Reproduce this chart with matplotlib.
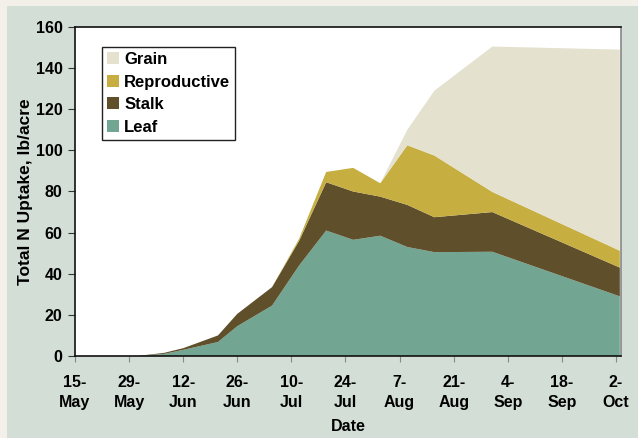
import pandas as pd
import numpy as np
import matplotlib.pyplot as plt
import matplotlib.dates as mdates
from matplotlib.patches import Rectangle

plt.rcParams['font.family'] = ['Liberation Sans', 'DejaVu Sans']
plt.rcParams['font.weight'] = 'bold'
plt.rcParams['axes.labelweight'] = 'bold'

# sampling dates and N uptake per plant part (lb/acre)
dates = ['2021-05-31', '2021-06-07', '2021-06-12', '2021-06-21', '2021-06-26',
         '2021-07-05', '2021-07-12', '2021-07-19', '2021-07-26', '2021-08-02',
         '2021-08-09', '2021-08-16', '2021-08-31', '2021-10-03']
leaf = [0, 1.0, 3.0, 6.8, 14.5, 24.5, 44, 61, 56.5, 58.5, 53, 50.5, 50.7, 29]
stalk = [0, 0.5, 0.8, 3.2, 6, 9, 12, 23.5, 23.5, 19, 20.5, 17, 19.3, 14]
reproductive = [0, 0, 0, 0, 0, 0, 1, 5, 11.5, 6.5, 29, 30, 9.8, 8.2]
grain = [0, 0, 0, 0, 0, 0, 0, 0, 0, 0, 7.5, 31.5, 70.7, 97.8]

tick_dates = ['2021-05-15', '2021-05-29', '2021-06-12', '2021-06-26', '2021-07-10',
              '2021-07-24', '2021-08-07', '2021-08-21', '2021-09-04', '2021-09-18',
              '2021-10-02']
tick_labels = ['15-\nMay', '29-\nMay', '12-\nJun', '26-\nJun', '10-\nJul', '24-\nJul',
               '7-\nAug', '21-\nAug', '4-\nSep', '18-\nSep', '2-\nOct']

colors = ['#72a592', '#5f4f2a', '#c6ae40', '#e4e1cf']
names = ['Leaf', 'Stalk', 'Reproductive', 'Grain']


def main():
    x = pd.to_datetime(dates)
    fig = plt.figure(figsize=(6.38, 4.38), dpi=100)
    fig.patch.set_facecolor('#f3f0e9')
    bg = fig.add_axes([0, 0, 1, 1], zorder=-5)
    bg.axis('off')
    bg.add_patch(Rectangle((7 / 638, 0), 1, 1 - 6 / 438, transform=bg.transAxes,
                           facecolor='#d3dfd6', edgecolor='none'))

    ax = fig.add_axes([75 / 638, 1 - 356 / 438, 546 / 638, 329 / 438])
    ax.set_facecolor('white')
    polys = ax.stackplot(x, leaf, stalk, reproductive, grain, colors=colors,
                         labels=names, linewidth=0)

    xt = pd.to_datetime(tick_dates)
    ax.set_xticks(mdates.date2num(xt))
    ax.set_xticklabels(tick_labels, linespacing=1.4)
    ax.set_xlim(mdates.date2num(xt[0]), mdates.date2num(pd.Timestamp('2021-10-03')) + 0.3)
    ax.set_ylim(0, 160)
    ax.set_yticks(np.arange(0, 161, 20))

    ax.tick_params(axis='x', length=4, width=0.8, color='#888888', pad=10, labelsize=11.5)
    ax.tick_params(axis='y', length=5, width=0.8, color='#333333', pad=4, labelsize=11.5)
    for s in ['top', 'left', 'bottom']:
        ax.spines[s].set_color('#111111')
        ax.spines[s].set_linewidth(1.2)
    ax.spines['right'].set_color('#888888')
    ax.spines['right'].set_linewidth(1.2)

    ax.set_xlabel('Date', fontsize=11.5, labelpad=6)
    ax.set_ylabel('Total N Uptake, lb/acre', fontsize=12.5, labelpad=2)

    handles = polys[::-1]
    leg = ax.legend(handles, names[::-1], loc='upper left', bbox_to_anchor=(0.049, 0.939),
                    fontsize=12, fancybox=False, framealpha=1, edgecolor='#222222',
                    handlelength=0.75, handleheight=0.75, handletextpad=0.3,
                    labelspacing=0.45, borderpad=0.3, borderaxespad=0.0)
    leg.get_frame().set_linewidth(1.0)

    fig.savefig('out.png', dpi=100)


if __name__ == "__main__":
    main()
